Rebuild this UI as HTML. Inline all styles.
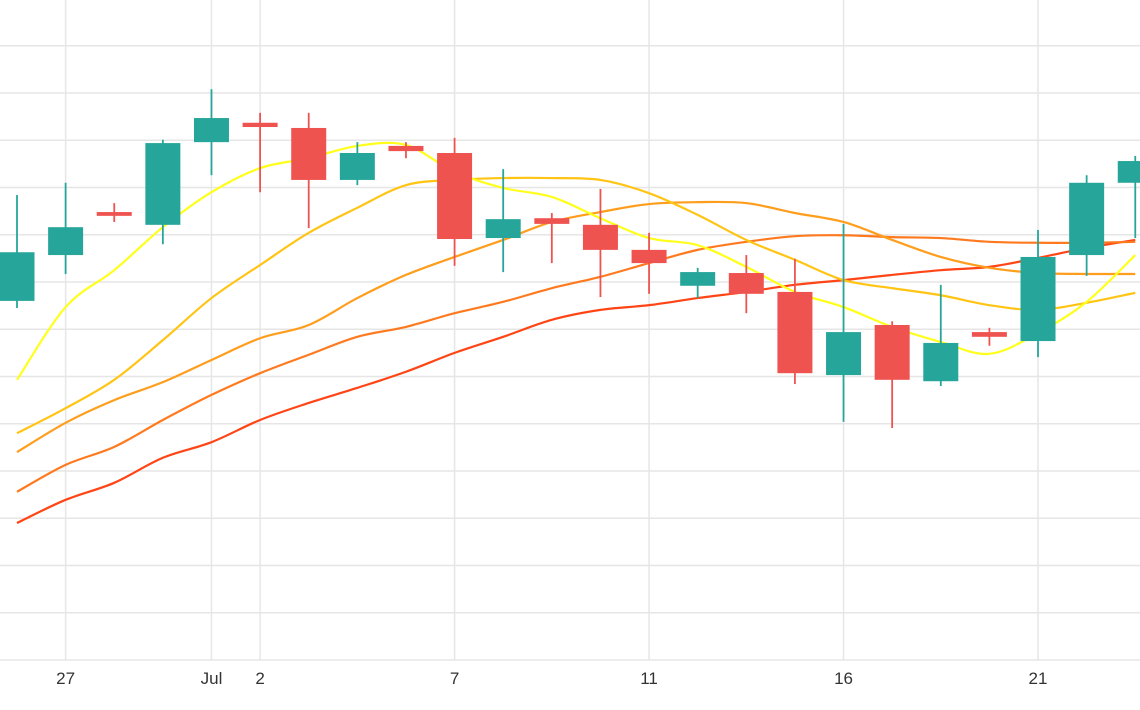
<!DOCTYPE html>
<html><head><meta charset="utf-8"><style>
html,body{margin:0;padding:0;background:#fff;}
svg{display:block;font-family:"Liberation Sans",sans-serif;}
</style></head><body>
<svg id="chart" width="1140" height="710" viewBox="0 0 1140 710" xmlns="http://www.w3.org/2000/svg">
<g id="grid"></g>
<g id="lines"></g>
<g id="candles"></g>
<g id="xaxis"></g>
</svg>
<script>
const opens  = [76.0,85.7,94.8,92.1,109.6,113.7,112.6,101.6,108.8,107.3,89.3,93.5,92.1,86.8,79.2,81.9,77.9,60.3,70.9,59.0,69.4,67.5,85.7,101.0];
const closes = [86.3,91.6,94.0,109.4,114.7,112.8,101.6,107.3,107.7,89.1,93.3,92.3,86.8,84.0,82.1,77.5,60.7,69.4,59.3,67.1,68.4,85.3,101.0,105.6];
const highs  = [98.4,101.0,96.7,110.1,120.8,115.8,115.8,109.6,109.6,110.5,103.9,94.6,99.7,90.4,83.0,85.7,84.9,92.3,71.7,79.4,70.3,91.0,102.6,106.7];
const lows   = [74.5,81.7,92.7,88.0,102.6,99.0,91.4,100.5,106.2,83.4,82.1,84.0,76.8,77.5,76.6,73.4,58.4,50.4,49.1,58.0,66.5,64.1,81.3,89.3];
const ma1 = [59.3,74.7,82.5,91.6,99.0,104.1,106.2,108.8,109.0,103.3,99.9,98.0,93.5,89.3,87.8,83.2,77.9,74.7,70.5,67.3,64.8,69.2,75.8,85.7];
const ma2 = [48.0,53.3,59.3,67.7,76.6,83.6,90.4,95.7,100.5,101.6,102.0,102.0,101.6,98.8,94.2,88.9,84.7,80.4,78.7,77.2,75.1,74.1,75.6,77.7];
const ma3 = [44.0,50.2,55.0,58.8,63.5,68.1,70.9,76.6,81.5,85.3,88.9,92.7,94.8,96.5,96.9,96.7,94.6,92.7,88.9,85.3,83.0,81.9,81.7,81.7];
const ma4 = [35.6,41.3,45.1,50.8,56.1,60.7,64.6,68.4,70.5,73.4,75.8,78.7,81.1,84.0,86.8,88.5,89.7,89.9,89.5,89.3,88.5,88.3,88.3,88.5];
const ma5 = [29.0,33.9,37.5,42.8,46.1,50.8,54.4,57.6,61.0,65.0,68.4,72.0,74.1,75.1,76.6,77.9,79.4,80.4,81.5,82.5,83.2,85.1,87.2,88.9];
const tickIdx = [1,4,5,9,13,17,21];
const tickLabels = ["27","Jul","2","7","11","16","21"];
const yTicks = [0,10,20,30,40,50,60,70,80,90,100,110,120,130];

const NS="http://www.w3.org/2000/svg";
const X = i => 17 + i*48.62;
const Y = v => 660 - v*4.725;
function mk(tag, attrs, parent){const e=document.createElementNS(NS,tag);for(const k in attrs)e.setAttribute(k,attrs[k]);parent.appendChild(e);return e;}
const grid=document.getElementById('grid'), lines=document.getElementById('lines'), cg=document.getElementById('candles'), xa=document.getElementById('xaxis');
yTicks.forEach(v=>{
  const l=mk('line',{x1:0,x2:1140,y1:Y(v),y2:Y(v),stroke:'#e6e6e6','stroke-width':1.5},grid);
  
  
});
tickIdx.forEach((t,k)=>{
  const l=mk('line',{x1:X(t),x2:X(t),y1:0,y2:660,stroke:'#e6e6e6','stroke-width':1.5},grid);
  
  
  const tx=mk('text',{x:X(t),y:684,'text-anchor':'middle','font-size':17,fill:'#333'},xa);
  tx.textContent=tickLabels[k];
  
  
});
function smooth(vals){
  const p=vals.map((v,i)=>[X(i),Y(v)]);
  let d='M'+p[0][0]+','+p[0][1];
  for(let i=0;i<p.length-1;i++){
    const p0=p[i-1]||p[i],p1=p[i],p2=p[i+1],p3=p[i+2]||p2;
    const c1=[p1[0]+(p2[0]-p0[0])/6,p1[1]+(p2[1]-p0[1])/6];
    const c2=[p2[0]-(p3[0]-p1[0])/6,p2[1]-(p3[1]-p1[1])/6];
    d+=' C'+c1[0]+','+c1[1]+' '+c2[0]+','+c2[1]+' '+p2[0]+','+p2[1];
  }
  return d;
}
[[ma5,'#ff4515','ma-line-5'],[ma4,'#ff7a1f','ma-line-4'],[ma3,'#ff9d1c','ma-line-3'],[ma2,'#ffc414','ma-line-2'],[ma1,'#ffff1a','ma-line-1']].forEach(([s,c,n])=>{
  const p=mk('path',{d:smooth(s),fill:'none',stroke:c,'stroke-width':2.2},lines);
  
  
});
opens.forEach((o,i)=>{
  const c=closes[i], up=c>=o, col=up?'#26a69a':'#ef5350', x=X(i);
  const w=mk('line',{x1:x,x2:x,y1:Y(highs[i]),y2:Y(lows[i]),stroke:col,'stroke-width':1.8},cg);
  
  
  const top=Y(Math.max(o,c)), bot=Y(Math.min(o,c));
  const r=mk('rect',{x:x-17.5,y:top,width:35,height:Math.max(bot-top,3),fill:col},cg);
  
  
});
</script>
</body></html>
